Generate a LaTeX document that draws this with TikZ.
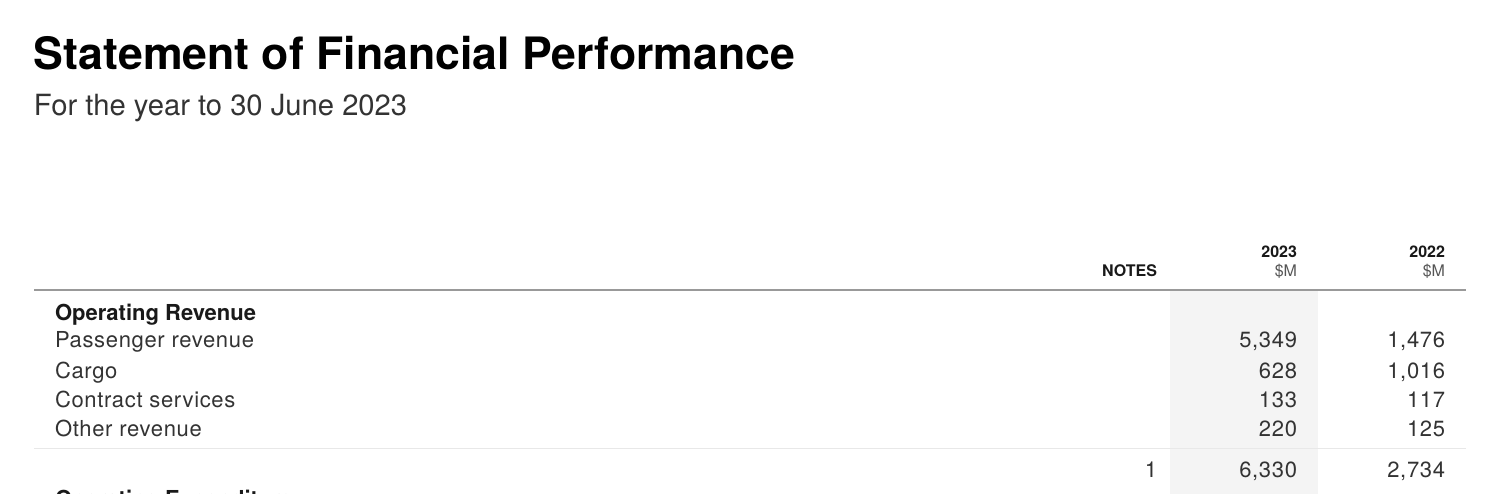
\documentclass[tikz,border=0pt]{standalone}
\usepackage{fontspec}
\setmainfont{TeX Gyre Heros}
\newfontfamily\bodyfont[LetterSpace=3]{TeX Gyre Heros}
\definecolor{txtgray}{HTML}{333333}
\definecolor{colshade}{HTML}{F4F4F4}
\definecolor{rulegray}{HTML}{999999}
\definecolor{sepgray}{HTML}{E8E8E8}
\definecolor{unitgray}{HTML}{555555}
\begin{document}
\begin{tikzpicture}[x=1pt,y=-1pt,
  every node/.style={inner sep=0pt,outer sep=0pt},
  titletext/.style={anchor=base west,font=\fontsize{44.6}{50}\selectfont\bfseries,text=black},
  subtitletext/.style={anchor=base west,font=\fontsize{29.2}{32}\selectfont,text=txtgray},
  colhead/.style={anchor=base east,font=\fontsize{16}{18}\selectfont\bfseries,text=black!90},
  unithead/.style={anchor=base east,font=\fontsize{16}{18}\selectfont,text=unitgray},
  sectiontext/.style={anchor=base west,font=\fontsize{22}{24}\selectfont\bfseries,text=black!90},
  labeltext/.style={anchor=base west,font=\bodyfont\fontsize{22}{24}\selectfont,text=txtgray},
  numtext/.style={anchor=base east,font=\bodyfont\fontsize{22}{24}\selectfont,text=txtgray}]
\useasboundingbox (0,0) rectangle (1502,494);
\clip (0,0) rectangle (1502,494);
\fill[white] (0,0) rectangle (1502,494);
% shaded 2023 column
\fill[colshade] (1170,291) rectangle (1318,494);
% rules
\draw[rulegray,line width=2pt] (34,290) -- (1466,290);
\draw[sepgray,line width=1pt] (34,448) -- (1466,448);
% title
\node[titletext] (t) at (34,70) {Statement of Financial Performance};
\node[subtitletext] (st) at (34,116) {For the year to 30 June 2023};
% column headings
\node[colhead] (hn) at (1157,277) {NOTES};
\node[colhead] (h23) at (1297,258) {2023};
\node[unithead] (u23) at (1297,277) {\$M};
\node[colhead] (h22) at (1445,258) {2022};
\node[unithead] (u22) at (1445,277) {\$M};
% rows
\node[sectiontext] (s1) at (55,321) {Operating Revenue};
\node[labeltext] (r1) at (55,348) {Passenger revenue};
\node[numtext] (r1a) at (1297,348) {5,349};
\node[numtext] (r1b) at (1445,348) {1,476};
\node[labeltext] (r2) at (55,378) {Cargo};
\node[numtext] (r2a) at (1297,378) {628};
\node[numtext] (r2b) at (1445,378) {1,016};
\node[labeltext] (r3) at (55,407) {Contract services};
\node[numtext] (r3a) at (1297,407) {133};
\node[numtext] (r3b) at (1445,407) {117};
\node[labeltext] (r4) at (55,436) {Other revenue};
\node[numtext] (r4a) at (1297,436) {220};
\node[numtext] (r4b) at (1445,436) {125};
% total
\node[numtext] (tn) at (1157,477) {1};
\node[numtext] (ta) at (1297,477) {6,330};
\node[numtext] (tb) at (1445,477) {2,734};
% next section (cut off at the lower edge, as in the reference)
\node[sectiontext] (s2) at (55,506) {Operating Expenditure};
\end{tikzpicture}
\end{document}
